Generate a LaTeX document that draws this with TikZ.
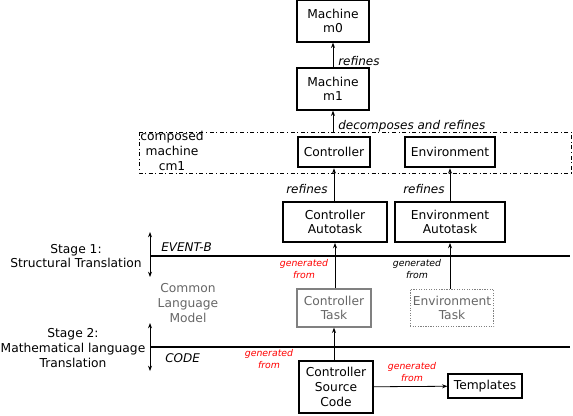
\documentclass[tikz,border=0pt]{standalone}
\usepackage{fontspec}
\setmainfont{DejaVu Sans}
\usepackage{tikz}
\usetikzlibrary{arrows.meta, positioning}
\tikzset{
    machine/.style={rectangle, draw, line width=1.4pt, align=center, inner sep=2pt, font=\fontsize{9.2}{11}\selectfont},
    task/.style={rectangle, draw=gray, text=black!60, line width=1.4pt, align=center, inner sep=2pt, font=\fontsize{9.2}{11}\selectfont},
    ghosttask/.style={rectangle, draw=gray, text=black!60, densely dotted, line width=0.9pt, align=center, inner sep=2pt, font=\fontsize{9.2}{11}\selectfont},
    plaintext/.style={align=center, inner sep=0pt, font=\fontsize{9.2}{11}\selectfont},
    reltext/.style={inner sep=0pt, font=\fontsize{9}{11}\selectfont\itshape},
    gentext/.style={align=center, inner sep=0pt, font=\fontsize{7}{9.5}\selectfont\itshape},
    arrow/.style={-{Stealth[length=4pt, width=3pt]}, line width=0.6pt},
    bothway/.style={{Stealth[length=4pt, width=3pt]}-{Stealth[length=4pt, width=3pt]}, line width=0.6pt},
    level/.style={line width=1.1pt}
}

\begin{document}
\begin{tikzpicture}[x=0.75pt, y=-0.75pt]
    \useasboundingbox (0,0) rectangle (573,415);

    % Event-B machines
    \node[machine, minimum width=54pt, minimum height=31pt] (m0) at (333,21) {Machine\\m0};
    \node[machine, minimum width=54pt, minimum height=31pt] (m1) at (333,89) {Machine\\m1};

    % Composed machine
    \draw[line width=0.6pt, dash dot] (139,132) rectangle (571,173);
    \coordinate (cm1top) at (333,132);
    \node[plaintext] (cm1) at (172,151) {composed\\machine\\cm1};
    \node[machine, minimum width=54pt, minimum height=23pt] (ctrl) at (334,152) {Controller};
    \node[machine, minimum width=68pt, minimum height=23pt] (env) at (450,152) {Environment};

    % Autotasks
    \node[machine, minimum width=78pt, minimum height=30pt] (ctrlauto) at (335,222) {Controller\\Autotask};
    \node[machine, minimum width=82pt, minimum height=30pt] (envauto) at (450,222) {Environment\\Autotask};

    % Levels
    \coordinate (eventbL) at (150,256);
    \coordinate (eventbR) at (570,256);
    \coordinate (codeL) at (150,347);
    \coordinate (codeR) at (570,347);
    \draw[level] (eventbL) -- (eventbR);
    \draw[level] (codeL) -- (codeR);
    \node[reltext, anchor=west] (eventb) at (161,247) {EVENT-B};
    \node[reltext, anchor=west] (code) at (165,358) {CODE};

    % Stages
    \coordinate (s1top) at (150,232);
    \coordinate (s1bot) at (150,277);
    \coordinate (s2top) at (150,323);
    \coordinate (s2bot) at (150,371);
    \draw[bothway] (s1top) -- (s1bot);
    \draw[bothway] (s2top) -- (s2bot);
    \node[plaintext] (stage1) at (76,256) {Stage 1:\\Structural Translation};
    \node[plaintext] (stage2) at (73,348) {Stage 2:\\Mathematical language\\Translation};

    % Common language model
    \node[plaintext, text=black!60] (clm) at (188,303) {Common\\Language\\Model};
    \node[task, minimum width=55pt, minimum height=28pt] (ctrltask) at (334,308) {Controller\\Task};
    \node[ghosttask, minimum width=62pt, minimum height=28pt] (envtask) at (452,308) {Environment\\Task};

    % Code
    \node[machine, minimum width=55pt, minimum height=39pt] (src) at (336,387) {Controller\\Source\\Code};
    \node[machine, minimum width=55pt, minimum height=18pt] (tmpl) at (485,386) {Templates};

    % Arrows
    \draw[arrow] (m1) -- (m0);
    \draw[arrow] (cm1top) -- (m1);
    \draw[arrow] (ctrlauto.north -| ctrl) -- (ctrl);
    \draw[arrow] (envauto) -- (env);
    \draw[arrow] (ctrltask.north -| ctrlauto) -- (ctrlauto);
    \draw[arrow] (envtask.north -| envauto) -- (envauto);
    \draw[arrow] (src.north -| ctrltask) -- (ctrltask);
    \draw[arrow] (src) -- (tmpl);

    % Labels
    \node[reltext, anchor=west] (l1) at (338,61) {refines};
    \node[reltext, anchor=west] (l2) at (338,126) {decomposes and refines};
    \node[reltext, anchor=west] (l3) at (286,189) {refines};
    \node[reltext, anchor=west] (l4) at (403,189) {refines};
    \node[gentext, text=red] (g1) at (304,269) {generated\\from};
    \node[gentext] (g2) at (417,269) {generated\\from};
    \node[gentext, text=red] (g3) at (269,359) {generated\\from};
    \node[gentext, text=red] (g4) at (412,372) {generated\\from};
\end{tikzpicture}
\end{document}
